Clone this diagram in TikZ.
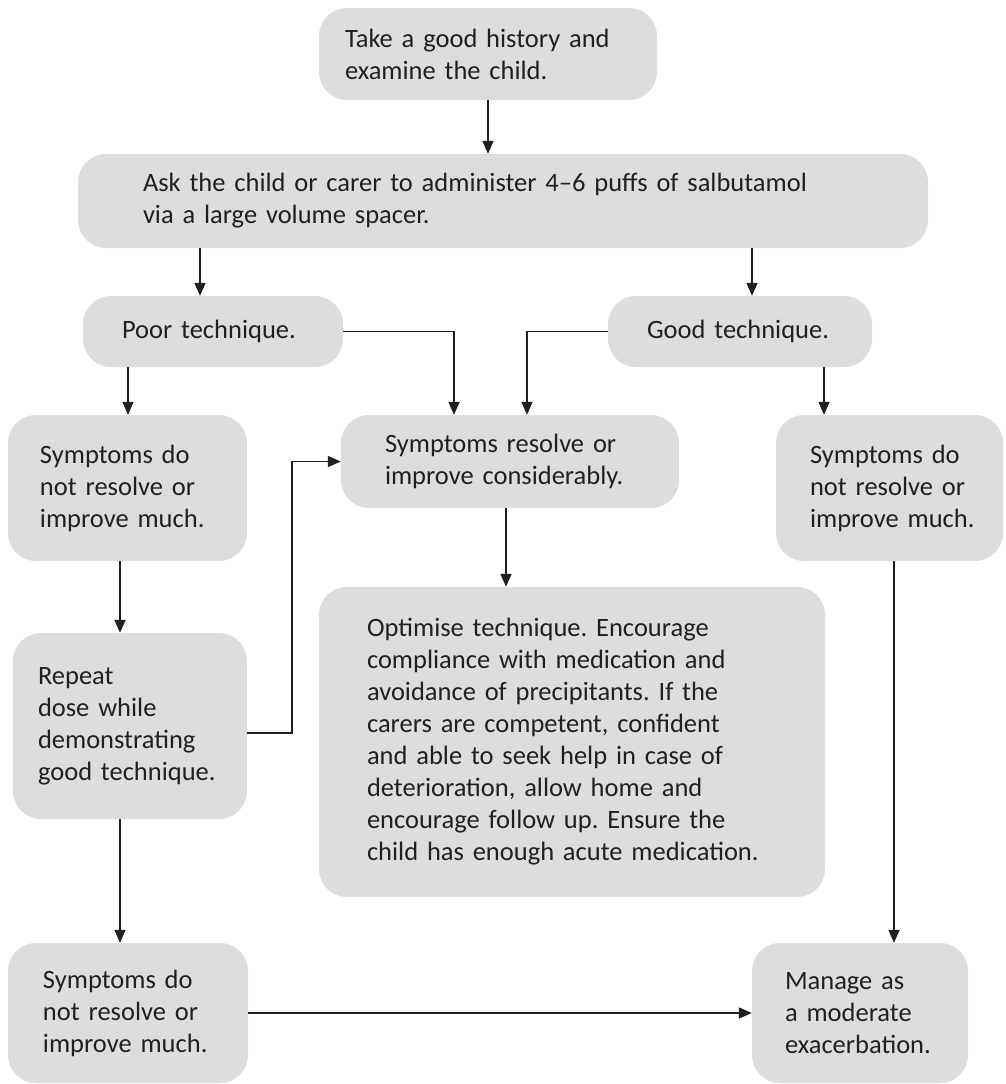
\documentclass[tikz,border=0pt]{standalone}
\usepackage{fontspec}
\setmainfont{Carlito}
\usetikzlibrary{arrows.meta}
\definecolor{boxgray}{RGB}{220,221,223}
\definecolor{ink}{RGB}{35,31,32}
\frenchspacing
\begin{document}
\begin{tikzpicture}[x=1pt,y=-1pt,
  box/.style={fill=boxgray, rounded corners=28pt, align=left, inner ysep=0pt,
    text=ink, font=\fontsize{26.5pt}{32pt}\selectfont\frenchspacing},
  lpad/.style={inner xsep=0pt, execute at begin node={\leftskip=#1}},
  arr/.style={draw=ink, line width=1.8pt, -{Triangle[length=13pt,width=11pt]}}]
\useasboundingbox (0,0) rectangle (1005,1084);

\node[box, lpad=26pt, text width=338pt, minimum height=92pt] (A) at (488,54)
  {Take a good history and\\examine the child.};
\node[box, lpad=65pt, text width=850pt, minimum height=94pt] (B) at (503,201)
  {Ask the child or carer to administer 4–6 puffs of salbutamol\\via a large volume spacer.};
\node[box, lpad=39pt, text width=260pt, minimum height=71pt] (Poor) at (213,331.5)
  {Poor technique.};
\node[box, lpad=39pt, text width=264pt, minimum height=71pt] (Good) at (740,331.5)
  {Good technique.};
\node[box, lpad=32pt, text width=239pt, minimum height=146pt] (LeftS) at (127.5,488)
  {Symptoms do\\not resolve or\\improve much.};
\node[box, lpad=44pt, text width=338pt, minimum height=93pt] (Mid) at (510,461.5)
  {Symptoms resolve or\\improve considerably.};
\node[box, lpad=34pt, text width=227pt, minimum height=146pt] (RightS) at (889.5,488)
  {Symptoms do\\not resolve or\\improve much.};
\node[box, lpad=25pt, text width=234pt, minimum height=186pt] (Repeat) at (130,726)
  {Repeat\\dose while\\demonstrating\\good technique.};
\node[box, lpad=48pt, text width=506pt, minimum height=310pt] (Opt) at (572,742)
  {Optimise technique. Encourage\\compliance with medication and\\avoidance of precipitants. If the\\carers are competent, confident\\and able to seek help in case of\\deterioration, allow home and\\encourage follow up. Ensure the\\child has enough acute medication.};
\node[box, lpad=35pt, text width=240pt, minimum height=140pt] (BL) at (128,1013)
  {Symptoms do\\not resolve or\\improve much.};
\node[box, lpad=33pt, text width=216pt, minimum height=140pt] (Man) at (860,1013)
  {Manage as\\a moderate\\exacerbation.};

\draw[arr] (A.south) -- (A.south |- B.north);
\draw[arr] (B.south -| 200,0) -- (Poor.north -| 200,0);
\draw[arr] (B.south -| 752,0) -- (Good.north -| 752,0);
\draw[arr] (Poor.east) -| (Mid.north -| 454,0);
\draw[arr] (Good.west) -| (Mid.north -| 527,0);
\draw[arr] (Poor.south -| 128,0) -- (LeftS.north -| 128,0);
\draw[arr] (Good.south -| 824,0) -- (RightS.north -| 824,0);
\draw[arr] (LeftS.south -| 120,0) -- (Repeat.north -| 120,0);
\draw[arr] ([yshift=-7pt]Repeat.east) -- ++(45pt,0) |- (Mid.west);
\draw[arr] (Mid.south -| 506,0) -- (Opt.north -| 506,0);
\draw[arr] (Repeat.south -| 120,0) -- (BL.north -| 120,0);
\draw[arr] (BL.east) -- (BL.east -| Man.west);
\draw[arr] (RightS.south -| 894,0) -- (Man.north -| 894,0);
\end{tikzpicture}
\end{document}
